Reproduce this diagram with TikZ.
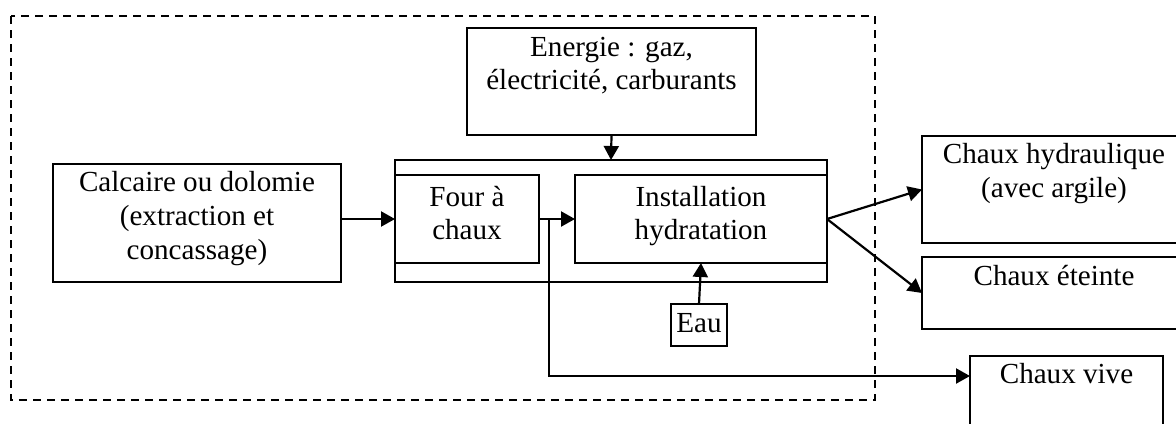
\documentclass[tikz,border=0pt]{standalone}
\usepackage{fontspec}
\setmainfont{Liberation Serif}
\usetikzlibrary{arrows.meta,calc}
\newcommand{\boxtext}[4]{\parbox[t][#2][t]{#1}{\centering\rule{0pt}{#3}#4\par}}
\begin{document}
\begin{tikzpicture}[x=0.5pt,y=-0.5pt,
  font=\fontsize{14.55pt}{16.85pt}\selectfont,
  box/.style={draw,line width=0.7pt,inner sep=0pt,outer sep=0pt,anchor=north west},
  arr/.style={line width=1.1pt,-{Triangle[length=7pt,width=7.5pt]}},
  frame/.style={line width=0.65pt,dash pattern=on 4pt off 3pt}]
\useasboundingbox (0,0) rectangle (1176,423);
\clip (0,0) rectangle (1176,423);
\draw[frame] (11,16) rectangle (875,400);
\node[box] (calc) at (53,164) {\boxtext{144pt}{59pt}{13.85pt}{Calcaire ou dolomie\\(extraction et\\concassage)}};
\node[box] (energie) at (467,28) {\boxtext{144.5pt}{53.5pt}{14pt}{Energie : gaz,\\électricité, carburants}};
\node[box,minimum width=216pt,minimum height=61pt] (kiln) at (395,160) {};
\node[box] (four) at (395,175) {\boxtext{72pt}{44pt}{15.5pt}{Four à\\chaux}};
\node[box] (inst) at (575,175) {\boxtext{126pt}{44pt}{15.5pt}{Installation\\hydratation}};
\node[box] (eau) at (671,304) {\boxtext{28pt}{21pt}{14.1pt}{Eau}};
\node[box] (hyd) at (922,136) {\boxtext{132pt}{53.5pt}{13.7pt}{Chaux hydraulique\\(avec argile)}};
\node[box] (eteinte) at (922,257) {\boxtext{132pt}{36pt}{14pt}{Chaux éteinte}};
\node[box] (vive) at (970,356) {\boxtext{96.5pt}{50pt}{13.7pt}{Chaux vive}};
\coordinate (br) at (549,219);
\draw[arr] (energie.south) -- (kiln.north);
\draw[arr] (four.west -| calc.east) -- (four.west);
\draw[arr] (four.east) -- (inst.west);
\draw[arr] (eau.north) -- (inst.south);
\draw[arr] (inst.east) -- (hyd.west);
\draw[arr] (inst.east) -- (eteinte.west);
\draw[arr] (br) |- ($(vive.north west)+(0,20)$);
\end{tikzpicture}
\end{document}
